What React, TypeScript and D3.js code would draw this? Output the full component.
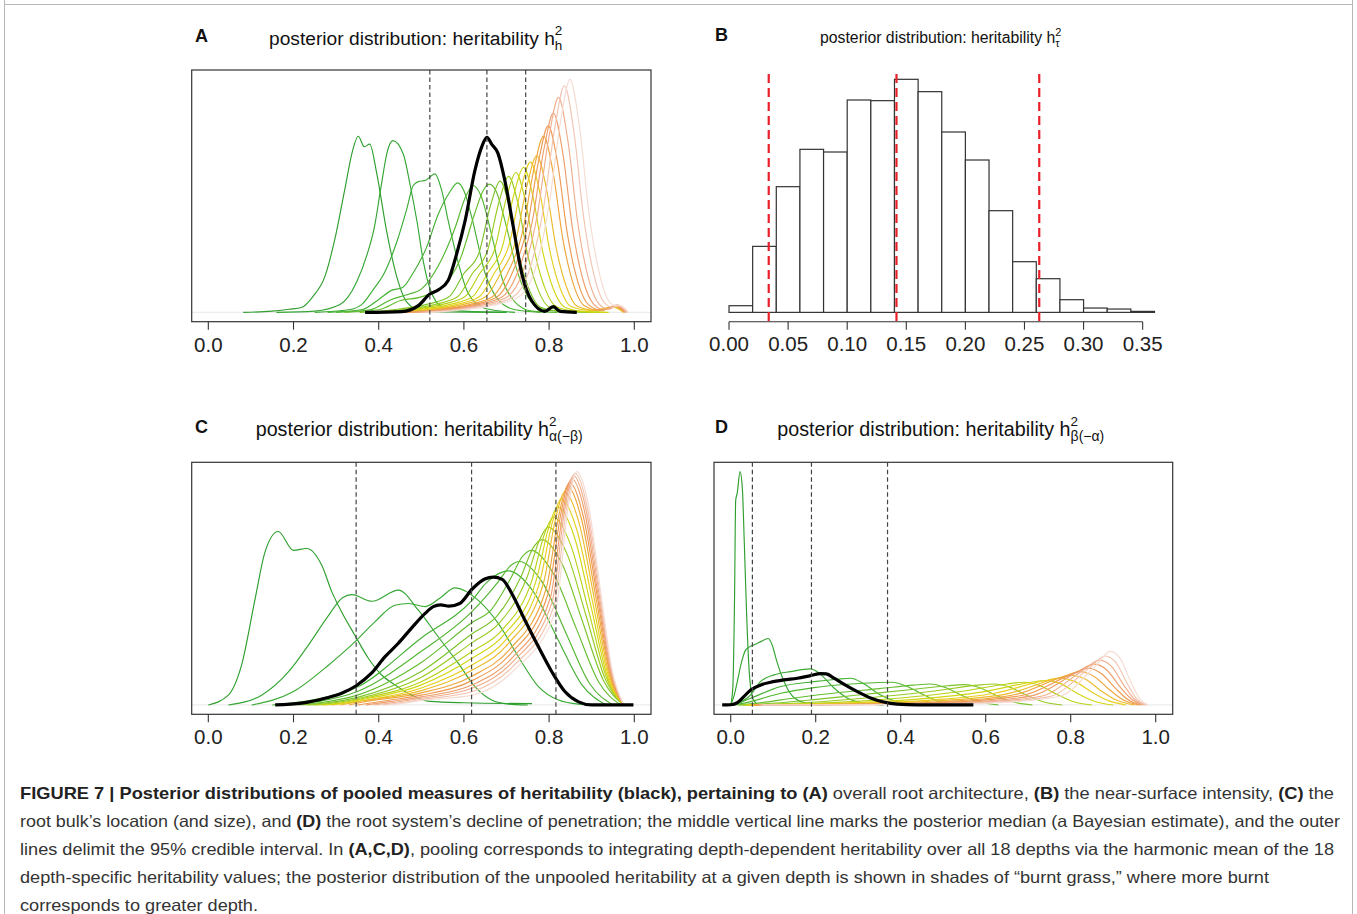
import React from "react";
import * as d3 from "d3";

type Pt = [number, number];

// ---------------- DATA ----------------
const depthColors = [
  "#2e9e2e", "#33a532", "#3aab34", "#44b033", "#52b631", "#64bd2e",
  "#7cc42a", "#98cb22", "#b6d216", "#d2d614", "#e6cf1e", "#ecbb2c",
  "#eea63c", "#ed9a52", "#ee9e6c", "#f0ae8e", "#f2c4b2", "#f4dcd2",
];

const ticksUnit = [0, 0.2, 0.4, 0.6, 0.8, 1.0];
const ticksB = [0, 0.05, 0.1, 0.15, 0.2, 0.25, 0.3, 0.35];

// Panel A: per-depth posterior densities of h_h^2 (knots)
const depthCurvesA: Pt[][] = [
  [[0.082,0],[0.15,0.05],[0.19,0.12],[0.22,0.2],[0.245,0.6],[0.274,1.4],[0.298,2.9],[0.321,4.8],[0.338,6.2],[0.352,6.8],[0.366,6.4],[0.379,6.5],[0.395,5.4],[0.419,3.1],[0.442,1.4],[0.466,0.4],[0.5,0.06],[0.56,0.02],[0.7,0]],
  [[0.16,0],[0.25,0.05],[0.309,0.3],[0.349,1.2],[0.372,2.2],[0.39,3.3],[0.405,4.8],[0.42,6.2],[0.433,6.63],[0.458,6.1],[0.474,4.9],[0.49,3.5],[0.505,1.95],[0.52,0.93],[0.55,0.2],[0.6,0.05],[0.7,0]],
  [[0.25,0],[0.33,0.1],[0.36,0.3],[0.388,0.9],[0.411,1.45],[0.442,2.7],[0.466,4.0],[0.481,4.9],[0.493,5.05],[0.51,5.1],[0.532,5.35],[0.548,4.7],[0.563,3.55],[0.587,1.9],[0.61,0.74],[0.65,0.15],[0.72,0]],
  [[0.28,0],[0.36,0.1],[0.4,0.5],[0.43,0.85],[0.455,0.95],[0.48,1.5],[0.512,2.5],[0.54,3.8],[0.567,4.65],[0.585,5.0],[0.6,4.7],[0.618,3.7],[0.65,1.5],[0.68,0.5],[0.72,0.1],[0.78,0]],
  [[0.3,0],[0.38,0.1],[0.43,0.5],[0.47,0.7],[0.5,0.9],[0.54,1.8],[0.58,3.3],[0.605,4.5],[0.622,4.9],[0.64,4.5],[0.665,3.0],[0.69,1.3],[0.72,0.4],[0.76,0.05],[0.82,0]],
  [[0.32,0],[0.4,0.1],[0.45,0.45],[0.5,0.6],[0.55,1.0],[0.59,2.0],[0.625,3.8],[0.645,4.7],[0.66,4.95],[0.675,4.7],[0.7,3.3],[0.725,1.6],[0.75,0.6],[0.78,0.15],[0.85,0]],
  [[0.355,0],[0.445,0.12],[0.515,0.32],[0.565,0.6],[0.6,1.5],[0.635,2.28],[0.663,4.16],[0.685,5.07],[0.707,4.06],[0.73,2.13],[0.755,0.81],[0.78,0.2],[0.83,0.04],[0.9,0]],
  [[0.375,0],[0.465,0.12],[0.535,0.32],[0.585,0.6],[0.62,1.5],[0.655,2.36],[0.683,4.3],[0.705,5.25],[0.727,4.2],[0.75,2.2],[0.775,0.84],[0.8,0.21],[0.85,0.04],[0.92,0]],
  [[0.392,0],[0.482,0.12],[0.552,0.32],[0.602,0.6],[0.637,1.5],[0.672,2.43],[0.7,4.43],[0.722,5.4],[0.744,4.32],[0.767,2.27],[0.792,0.86],[0.817,0.22],[0.86,0.05],[0.93,0]],
  [[0.41,0],[0.5,0.12],[0.57,0.32],[0.62,0.6],[0.655,1.5],[0.69,2.52],[0.718,4.59],[0.74,5.6],[0.762,4.48],[0.785,2.35],[0.81,0.9],[0.835,0.22],[0.87,0.06],[0.94,0]],
  [[0.426,0],[0.516,0.12],[0.586,0.32],[0.636,0.6],[0.671,1.5],[0.706,2.61],[0.734,4.76],[0.756,5.8],[0.778,4.64],[0.801,2.44],[0.826,0.93],[0.851,0.23],[0.9,0.08],[0.95,0.2],[0.975,0]],
  [[0.441,0],[0.531,0.12],[0.601,0.32],[0.651,0.6],[0.686,1.5],[0.721,2.72],[0.749,4.96],[0.771,6.05],[0.793,4.84],[0.816,2.54],[0.841,0.97],[0.866,0.24],[0.91,0.08],[0.952,0.22],[0.975,0]],
  [[0.457,0],[0.547,0.12],[0.617,0.32],[0.667,0.6],[0.702,1.5],[0.737,3.06],[0.765,5.58],[0.787,6.8],[0.809,5.44],[0.832,2.86],[0.857,1.09],[0.882,0.27],[0.92,0.08],[0.954,0.24],[0.977,0]],
  [[0.468,0],[0.558,0.12],[0.628,0.32],[0.678,0.6],[0.713,1.5],[0.748,3.24],[0.776,5.9],[0.798,7.2],[0.82,5.76],[0.843,3.02],[0.868,1.15],[0.893,0.29],[0.925,0.08],[0.956,0.26],[0.978,0]],
  [[0.48,0],[0.57,0.12],[0.64,0.32],[0.69,0.6],[0.725,1.5],[0.76,3.47],[0.788,6.31],[0.81,7.7],[0.832,6.16],[0.855,3.23],[0.88,1.23],[0.905,0.31],[0.93,0.1],[0.958,0.28],[0.98,0]],
  [[0.492,0],[0.582,0.12],[0.652,0.32],[0.702,0.6],[0.737,1.5],[0.772,3.74],[0.8,6.81],[0.822,8.3],[0.844,6.64],[0.867,3.49],[0.892,1.33],[0.917,0.33],[0.94,0.12],[0.96,0.28],[0.982,0]],
  [[0.506,0],[0.596,0.12],[0.666,0.32],[0.716,0.6],[0.751,1.5],[0.786,3.94],[0.814,7.18],[0.836,8.75],[0.858,7.0],[0.881,3.68],[0.906,1.4],[0.931,0.35],[0.95,0.2],[0.963,0.28],[0.984,0]],
  [[0.519,0],[0.609,0.12],[0.679,0.32],[0.729,0.6],[0.764,1.5],[0.799,4.05],[0.827,7.38],[0.849,9.0],[0.871,7.2],[0.894,3.78],[0.919,1.44],[0.944,0.36],[0.958,0.25],[0.968,0.25],[0.986,0]],
];
const pooledA: Pt[] = [[0.368,0],[0.454,0.03],[0.493,0.26],[0.52,0.71],[0.54,0.87],[0.563,1.23],[0.583,2.26],[0.603,3.55],[0.626,5.49],[0.642,6.4],[0.654,6.76],[0.665,6.5],[0.68,6.14],[0.696,5.1],[0.716,3.3],[0.736,1.49],[0.759,0.45],[0.79,0.04],[0.81,0.22],[0.826,0.04],[0.865,0]];
const credibleA = [0.52, 0.654, 0.745];

// Panel B: histogram of h_tau^2
const histBreaksB = [0,0.02,0.04,0.06,0.08,0.1,0.12,0.14,0.16,0.18,0.2,0.22,0.24,0.26,0.28,0.3,0.32,0.34,0.36];
const histCountsB = [20,198,377,489,481,637,635,699,662,541,457,305,152,101,38,13,10,3];
const credibleB = [0.0336, 0.1417, 0.2625];

// Panel C: h_alpha(-beta)^2
const depthCurvesC: Pt[][] = [
  [[0,0],[0.047,0.22],[0.078,0.89],[0.11,2.38],[0.133,3.42],[0.164,3.88],[0.2,3.46],[0.231,3.5],[0.266,3.13],[0.29,2.53],[0.313,2.08],[0.344,1.56],[0.376,1.04],[0.407,0.67],[0.438,0.45],[0.477,0.22],[0.52,0.08],[0.6,0.05],[0.76,0.03]],
  [[0.047,0],[0.125,0.22],[0.188,0.74],[0.235,1.34],[0.282,2.0],[0.315,2.4],[0.337,2.47],[0.384,2.32],[0.446,2.57],[0.493,2.12],[0.54,1.52],[0.587,0.93],[0.626,0.41],[0.665,0.11],[0.704,0.02],[0.75,0]],
  [[0.102,0],[0.2,0.3],[0.282,0.89],[0.344,1.41],[0.391,1.86],[0.438,2.23],[0.47,2.27],[0.509,2.2],[0.545,2.4],[0.579,2.62],[0.634,2.34],[0.681,1.82],[0.728,1.08],[0.775,0.41],[0.822,0.11],[0.869,0.02],[0.92,0]],
  [[0.15,0],[0.25,0.12],[0.35,0.4],[0.5,1.5],[0.62,2.35],[0.654,2.75],[0.684,2.95],[0.704,3.0],[0.762,2.55],[0.819,1.5],[0.877,0.45],[0.934,0]],
  [[0.17,0],[0.26,0.08],[0.35,0.3],[0.5,1.2],[0.62,2.1],[0.68,2.75],[0.71,3.12],[0.73,3.21],[0.785,2.73],[0.84,1.6],[0.895,0.48],[0.95,0]],
  [[0.19,0],[0.27,0.06],[0.35,0.22],[0.5,0.95],[0.62,1.85],[0.664,2.13],[0.708,2.8],[0.738,3.33],[0.758,3.46],[0.81,2.94],[0.863,1.73],[0.916,0.52],[0.968,0]],
  [[0.21,0],[0.28,0.05],[0.35,0.17],[0.5,0.75],[0.62,1.6],[0.677,1.98],[0.733,2.85],[0.763,3.52],[0.783,3.7],[0.831,3.15],[0.879,1.85],[0.927,0.56],[0.975,0]],
  [[0.23,0],[0.29,0.04],[0.35,0.14],[0.5,0.62],[0.62,1.4],[0.684,1.84],[0.748,2.85],[0.778,3.7],[0.798,3.98],[0.842,3.38],[0.887,1.99],[0.931,0.6],[0.975,0]],
  [[0.25,0],[0.3,0.03],[0.35,0.12],[0.5,0.52],[0.62,1.2],[0.69,1.68],[0.76,2.8],[0.79,3.85],[0.81,4.2],[0.851,3.57],[0.893,2.1],[0.934,0.63],[0.975,0]],
  [[0.27,0],[0.31,0.03],[0.35,0.1],[0.5,0.45],[0.62,1.05],[0.695,1.58],[0.77,2.8],[0.8,4.0],[0.82,4.43],[0.859,3.77],[0.898,2.22],[0.936,0.66],[0.975,0]],
  [[0.29,0],[0.35,0.08],[0.5,0.38],[0.62,0.9],[0.699,1.46],[0.778,2.75],[0.808,4.1],[0.828,4.61],[0.865,3.92],[0.902,2.31],[0.938,0.69],[0.975,0]],
  [[0.31,0],[0.35,0.07],[0.5,0.32],[0.62,0.78],[0.703,1.36],[0.786,2.7],[0.816,4.2],[0.836,4.76],[0.871,4.05],[0.906,2.38],[0.94,0.71],[0.975,0]],
  [[0.33,0],[0.36,0.06],[0.5,0.27],[0.62,0.65],[0.707,1.24],[0.793,2.6],[0.823,4.25],[0.843,4.89],[0.876,4.16],[0.909,2.45],[0.942,0.73],[0.975,0]],
  [[0.35,0],[0.42,0.1],[0.5,0.22],[0.62,0.55],[0.709,1.14],[0.798,2.5],[0.828,4.3],[0.848,4.98],[0.88,4.23],[0.912,2.49],[0.943,0.75],[0.975,0]],
  [[0.37,0],[0.43,0.08],[0.5,0.18],[0.62,0.45],[0.712,1.04],[0.803,2.4],[0.833,4.35],[0.853,5.06],[0.884,4.3],[0.914,2.53],[0.945,0.76],[0.975,0]],
  [[0.39,0],[0.44,0.06],[0.5,0.15],[0.62,0.38],[0.714,0.96],[0.807,2.3],[0.837,4.4],[0.857,5.13],[0.887,4.36],[0.916,2.57],[0.946,0.77],[0.975,0]],
  [[0.41,0],[0.45,0.05],[0.5,0.12],[0.62,0.3],[0.716,0.87],[0.811,2.2],[0.841,4.42],[0.861,5.18],[0.89,4.4],[0.918,2.59],[0.947,0.78],[0.975,0]],
  [[0.43,0],[0.46,0.04],[0.5,0.1],[0.62,0.22],[0.718,0.78],[0.815,2.1],[0.845,4.45],[0.865,5.22],[0.893,4.44],[0.92,2.61],[0.948,0.78],[0.975,0]],
];
const pooledC: Pt[] = [[0.157,0],[0.219,0.04],[0.274,0.15],[0.313,0.26],[0.347,0.43],[0.383,0.71],[0.415,1.08],[0.446,1.38],[0.477,1.72],[0.509,2.05],[0.528,2.2],[0.545,2.24],[0.565,2.21],[0.59,2.27],[0.62,2.6],[0.649,2.82],[0.669,2.86],[0.69,2.81],[0.712,2.5],[0.743,1.9],[0.775,1.3],[0.806,0.75],[0.837,0.3],[0.869,0.07],[0.9,0],[0.998,0]];
const credibleC = [0.347, 0.618, 0.816];

// Panel D: h_beta(-alpha)^2
const depthCurvesD: Pt[][] = [
  [[0,0],[0.005,1.5],[0.009,9.0],[0.0117,17.5],[0.0155,18.2],[0.022,20.0],[0.0275,18.5],[0.032,13.9],[0.0376,7.6],[0.043,3.2],[0.048,1.2],[0.055,0.35],[0.065,0.05],[0.08,0]],
  [[0,0],[0.008,0.8],[0.0155,2.0],[0.025,3.6],[0.035,4.7],[0.045,5.0],[0.058,5.2],[0.072,5.45],[0.088,5.7],[0.098,5.1],[0.108,3.8],[0.12,2.5],[0.132,1.5],[0.15,0.6],[0.18,0.15],[0.22,0]],
  [[0.005,0],[0.047,0.86],[0.07,2.0],[0.102,2.58],[0.141,2.86],[0.188,3.09],[0.212,2.6],[0.243,1.45],[0.274,0.6],[0.314,0.15],[0.36,0]],
  [[0.008,0],[0.047,0.57],[0.118,1.58],[0.196,2.0],[0.25,2.2],[0.282,2.29],[0.314,1.8],[0.35,0.9],[0.39,0.3],[0.43,0.05],[0.47,0]],
  [[0.01,0],[0.047,0.29],[0.118,1.0],[0.196,1.49],[0.274,1.78],[0.35,1.93],[0.38,1.95],[0.414,1.6],[0.455,0.85],[0.49,0.3],[0.53,0.05],[0.56,0]],
  [[0.015,0],[0.06,0.15],[0.15,0.6],[0.25,1.05],[0.35,1.4],[0.43,1.7],[0.47,1.8],[0.505,1.5],[0.545,0.8],[0.585,0.25],[0.63,0]],
  [[0.02,0],[0.08,0.1],[0.18,0.4],[0.3,0.85],[0.42,1.3],[0.51,1.65],[0.55,1.75],[0.585,1.5],[0.625,0.8],[0.665,0.25],[0.71,0]],
  [[0.025,0],[0.1,0.08],[0.22,0.3],[0.35,0.7],[0.48,1.2],[0.58,1.7],[0.62,1.8],[0.655,1.55],[0.695,0.85],[0.735,0.28],[0.78,0]],
  [[0.03,0],[0.12,0.06],[0.25,0.22],[0.4,0.6],[0.54,1.15],[0.65,1.8],[0.69,1.95],[0.725,1.7],[0.765,0.95],[0.805,0.3],[0.85,0]],
  [[0.035,0],[0.14,0.05],[0.28,0.18],[0.44,0.5],[0.59,1.1],[0.7,1.9],[0.74,2.1],[0.775,1.85],[0.815,1.0],[0.855,0.32],[0.9,0]],
  [[0.04,0],[0.16,0.04],[0.3,0.15],[0.47,0.42],[0.62,1.0],[0.735,2.05],[0.775,2.3],[0.81,2.0],[0.85,1.1],[0.89,0.35],[0.93,0]],
  [[0.045,0],[0.18,0.035],[0.32,0.12],[0.49,0.36],[0.65,0.95],[0.76,2.2],[0.8,2.55],[0.835,2.2],[0.872,1.2],[0.91,0.38],[0.95,0]],
  [[0.05,0],[0.2,0.03],[0.34,0.1],[0.51,0.3],[0.67,0.9],[0.78,2.4],[0.822,2.85],[0.855,2.45],[0.89,1.35],[0.925,0.4],[0.96,0]],
  [[0.055,0],[0.22,0.025],[0.36,0.08],[0.53,0.26],[0.69,0.85],[0.8,2.6],[0.84,3.15],[0.872,2.7],[0.905,1.45],[0.935,0.45],[0.965,0]],
  [[0.06,0],[0.24,0.02],[0.38,0.07],[0.55,0.22],[0.71,0.8],[0.815,2.8],[0.855,3.5],[0.885,3.0],[0.915,1.6],[0.945,0.45],[0.97,0]],
  [[0.065,0],[0.26,0.02],[0.4,0.06],[0.57,0.2],[0.73,0.75],[0.83,3.0],[0.868,3.85],[0.896,3.3],[0.924,1.75],[0.95,0.5],[0.975,0]],
  [[0.07,0],[0.28,0.015],[0.42,0.05],[0.59,0.18],[0.75,0.72],[0.845,3.2],[0.881,4.2],[0.907,3.6],[0.932,1.9],[0.956,0.5],[0.978,0]],
  [[0.075,0],[0.3,0.015],[0.44,0.045],[0.61,0.16],[0.77,0.7],[0.86,3.4],[0.893,4.6],[0.917,3.95],[0.94,2.1],[0.962,0.55],[0.982,0]],
];
const pooledD: Pt[] = [[-0.02,0],[0.0,0.02],[0.0156,0.2],[0.031,0.72],[0.047,1.29],[0.071,1.72],[0.094,1.95],[0.125,2.15],[0.157,2.29],[0.188,2.52],[0.212,2.69],[0.225,2.66],[0.243,2.3],[0.267,1.77],[0.298,1.15],[0.329,0.6],[0.36,0.25],[0.392,0.07],[0.44,0.01],[0.571,0]];
const credibleD = [0.051, 0.19, 0.369];

const captionLines: { text: string; bold: boolean }[][] = [
  [
    { text: "FIGURE 7 | Posterior distributions of pooled measures of heritability (black), pertaining to (A)", bold: true },
    { text: " overall root architecture, ", bold: false },
    { text: "(B)", bold: true },
    { text: " the near-surface intensity, ", bold: false },
    { text: "(C)", bold: true },
    { text: " the", bold: false },
  ],
  [
    { text: "root bulk\u2019s location (and size), and ", bold: false },
    { text: "(D)", bold: true },
    { text: " the root system\u2019s decline of penetration; the middle vertical line marks the posterior median (a Bayesian estimate), and the outer", bold: false },
  ],
  [
    { text: "lines delimit the 95% credible interval. In ", bold: false },
    { text: "(A,C,D)", bold: true },
    { text: ", pooling corresponds to integrating depth-dependent heritability over all 18 depths via the harmonic mean of the 18", bold: false },
  ],
  [
    { text: "depth-specific heritability values; the posterior distribution of the unpooled heritability at a given depth is shown in shades of \u201Cburnt grass,\u201D where more burnt", bold: false },
  ],
  [{ text: "corresponds to greater depth.", bold: false }],
];
const captionWidths = [1314, 1320, 1314, 1249, 238];

// ---------------- LAYOUT ----------------
const FONT = "'Liberation Sans', Arial, Helvetica, sans-serif";
const TICK_FONT = 20.5;

interface DensityProps {
  id: string;
  left: number;
  right: number;
  top: number;
  bottom: number;
  xDomain: [number, number];
  curves: Pt[][];
  pooled: Pt[];
  credible: number[];
  labelBaseline: number;
}

function DensityPanel(p: DensityProps) {
  const x = d3.scaleLinear().domain(p.xDomain).range([p.left, p.right]);
  const M = d3.max([...p.curves.flat(), ...p.pooled], (d) => d[1]) as number;
  const y = d3.scaleLinear().domain([-0.04 * M, 1.04 * M]).range([p.bottom, p.top]);
  const line = d3
    .line<Pt>()
    .x((d) => x(d[0]))
    .y((d) => y(d[1]))
    .curve(d3.curveMonotoneX);
  const fmt = d3.format(".1f");
  return (
    <g>
      <defs>
        <clipPath id={`clip-${p.id}`}>
          <rect x={p.left} y={p.top} width={p.right - p.left} height={p.bottom - p.top} />
        </clipPath>
      </defs>
      <g clipPath={`url(#clip-${p.id})`}>
        <line x1={p.left} x2={p.right} y1={y(0)} y2={y(0)} stroke="#ececec" strokeWidth={1.2} />
        {p.curves.map((c, i) => (
          <path key={i} d={line(c) as string} fill="none" stroke={depthColors[i]} strokeWidth={1.15} />
        ))}
        <path d={line(p.pooled) as string} fill="none" stroke="#000" strokeWidth={3.2} strokeLinejoin="round" />
        {p.credible.map((v, i) => (
          <line key={i} x1={x(v)} x2={x(v)} y1={p.top} y2={p.bottom} stroke="#444" strokeWidth={1.2} strokeDasharray="4.5,3" />
        ))}
      </g>
      <rect x={p.left} y={p.top} width={p.right - p.left} height={p.bottom - p.top} fill="none" stroke="#333" strokeWidth={1.2} />
      {ticksUnit.map((t) => (
        <g key={t}>
          <line x1={x(t)} x2={x(t)} y1={p.bottom} y2={p.bottom + 8} stroke="#333" strokeWidth={1.1} />
          <text x={x(t)} y={p.labelBaseline} textAnchor="middle" fontSize={TICK_FONT} fill="#222">
            {fmt(t)}
          </text>
        </g>
      ))}
    </g>
  );
}

function HistPanel() {
  const left = 712, right = 1171.5, top = 70, bottom = 321.7;
  const x = d3.scaleLinear().domain([-0.0144, 0.3744]).range([left, right]);
  const M = d3.max(histCountsB) as number;
  const y = d3.scaleLinear().domain([-0.04 * M, 1.04 * M]).range([bottom, top]);
  const fmt = d3.format(".2f");
  return (
    <g>
      {histCountsB.map((c, i) => (
        <rect
          key={i}
          x={x(histBreaksB[i])}
          y={y(c)}
          width={x(histBreaksB[i + 1]) - x(histBreaksB[i])}
          height={y(0) - y(c)}
          fill="#fff"
          stroke="#333"
          strokeWidth={1.2}
        />
      ))}
      {credibleB.map((v, i) => (
        <line key={i} x1={x(v)} x2={x(v)} y1={top + 4} y2={bottom} stroke="#e8202a" strokeWidth={2.2} strokeDasharray="9,5" />
      ))}
      <line x1={x(ticksB[0])} x2={x(ticksB[ticksB.length - 1])} y1={bottom} y2={bottom} stroke="#333" strokeWidth={1.1} />
      {ticksB.map((t) => (
        <g key={t}>
          <line x1={x(t)} x2={x(t)} y1={bottom} y2={bottom + 8} stroke="#333" strokeWidth={1.1} />
          <text x={x(t)} y={350.5} textAnchor="middle" fontSize={TICK_FONT} fill="#222">
            {fmt(t)}
          </text>
        </g>
      ))}
    </g>
  );
}

export default function App() {
  return (
    <svg
      width={1357}
      height={914}
      viewBox="0 0 1357 914"
      style={{ position: "absolute", left: 0, top: 0, background: "#fff" }}
      fontFamily={FONT}
    >
      <rect x={0} y={0} width={1357} height={914} fill="#fff" />
      <line x1={4.5} x2={4.5} y1={0} y2={914} stroke="#b8b8b8" strokeWidth={1} />
      <line x1={1352.5} x2={1352.5} y1={0} y2={914} stroke="#b8b8b8" strokeWidth={1} />
      <line x1={4.5} x2={1352.5} y1={4.5} y2={4.5} stroke="#b8b8b8" strokeWidth={1} />

      {/* Panel letters */}
      <text x={195} y={41.7} fontSize={18} fontWeight="bold" fill="#111">A</text>
      <text x={715} y={40.7} fontSize={18} fontWeight="bold" fill="#111">B</text>
      <text x={195} y={432.7} fontSize={18} fontWeight="bold" fill="#111">C</text>
      <text x={715} y={432.5} fontSize={18} fontWeight="bold" fill="#111">D</text>

      {/* Titles */}
      <text x={269} y={45} fontSize={19.2} fill="#111">
        posterior distribution: heritability h
        <tspan dy={-10} fontSize={13.5}>2</tspan>
        <tspan dx={-7.5} dy={15} fontSize={13.5}>h</tspan>
      </text>
      <text x={820} y={42.7} fontSize={15.8} fill="#111">
        posterior distribution: heritability h
        <tspan dy={-6.5} fontSize={11}>2</tspan>
        <tspan dx={-6.1} dy={10.5} fontSize={11}>τ</tspan>
      </text>
      <text x={255.7} y={436} fontSize={19.7} fill="#111">
        posterior distribution: heritability h
        <tspan dy={-10} fontSize={13.5}>2</tspan>
        <tspan dx={-7.5} dy={15} fontSize={14}>α(−β)</tspan>
      </text>
      <text x={777.3} y={436} fontSize={19.7} fill="#111">
        posterior distribution: heritability h
        <tspan dy={-10} fontSize={13.5}>2</tspan>
        <tspan dx={-7.5} dy={15} fontSize={14}>β(−α)</tspan>
      </text>

      <DensityPanel
        id="A"
        left={191.7}
        right={651}
        top={70}
        bottom={321.7}
        xDomain={[-0.039, 1.0392]}
        curves={depthCurvesA}
        pooled={pooledA}
        credible={credibleA}
        labelBaseline={351.5}
      />
      <HistPanel />
      <DensityPanel
        id="C"
        left={191.7}
        right={651}
        top={462.3}
        bottom={714.3}
        xDomain={[-0.039, 1.0392]}
        curves={depthCurvesC}
        pooled={pooledC}
        credible={credibleC}
        labelBaseline={743.5}
      />
      <DensityPanel
        id="D"
        left={714}
        right={1172.7}
        top={462.3}
        bottom={714.3}
        xDomain={[-0.0393, 1.04]}
        curves={depthCurvesD}
        pooled={pooledD}
        credible={credibleD}
        labelBaseline={743.5}
      />

      {/* Caption */}
      {captionLines.map((segs, li) => (
        <text
          key={li}
          x={20}
          y={799 + li * 28}
          fontSize={16.5}
          fill="#333"
          textLength={captionWidths[li]}
          lengthAdjust="spacingAndGlyphs"
        >
          {segs.map((s, si) => (
            <tspan key={si} fontWeight={s.bold ? "bold" : "normal"} fill={s.bold ? "#222" : "#333"}>
              {s.text}
            </tspan>
          ))}
        </text>
      ))}
    </svg>
  );
}
